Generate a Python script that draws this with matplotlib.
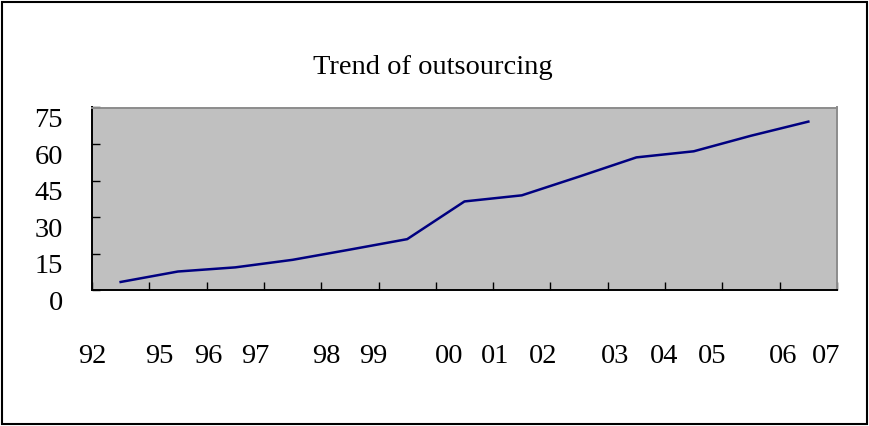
"""Trend of outsourcing (line chart, Excel-style)."""

import matplotlib

matplotlib.use("Agg")
import matplotlib.pyplot as plt
from matplotlib.patches import Rectangle

# values
values = [3.3, 7.6, 9.3, 12.4, 16.6, 20.9, 36.4, 38.9, 46.6, 54.5, 57.0, 63.4, 69.2]
year_labels = ["92", "95", "96", "97", "98", "99", "00", "01", "02", "03", "04", "05", "06", "07"]
# where the year text sits along the x axis (axes fraction)
label_pos = [0.0, 0.091, 0.156, 0.219, 0.314, 0.378, 0.479, 0.541, 0.605, 0.702, 0.768, 0.832, 0.928, 0.986]
yticks = [0, 15, 30, 45, 60, 75]

FONT = "Liberation Serif"
plt.rcParams["font.family"] = FONT
FS = 20.5


def main():
    fig = plt.figure(figsize=(8.69, 4.27), dpi=100)
    ax = fig.add_axes([92 / 869, 1 - 291 / 427, (837 - 92) / 869, (291 - 108.5) / 427])
    ax.set_facecolor("#C0C0C0")

    xs = list(range(len(values)))
    ax.plot(xs, values, color="#000080", lw=1.8)

    ax.set_xlim(-0.5, len(values) - 0.5)
    ax.set_ylim(0, 75)
    ax.set_xticks([i - 0.5 for i in range(len(values) + 1)])
    ax.set_xticklabels([])
    ax.set_yticks(yticks)
    ax.set_yticklabels([str(v) for v in yticks], fontsize=FS, va="top")
    ax.tick_params(axis="x", direction="in", length=6, width=1, color="black")
    ax.tick_params(axis="y", direction="in", length=5.5, width=1, color="black", pad=21)

    for side in ("left", "bottom"):
        ax.spines[side].set_color("black")
        ax.spines[side].set_linewidth(1.4)
    for side in ("top", "right"):
        ax.spines[side].set_color("#8C8C8C")
        ax.spines[side].set_linewidth(1.4)

    for lab, pos in zip(year_labels, label_pos):
        ax.text(pos, -0.36, lab, transform=ax.transAxes, ha="center", va="center", fontsize=FS)

    fig.text(0.4977, 1 - 68 / 427, "Trend of outsourcing", ha="center", va="center", fontsize=FS)

    # outer chart frame
    fig.patches.append(Rectangle((1.5 / 869, 2.5 / 427), 865 / 869, 421.5 / 427, transform=fig.transFigure,
                                 fill=False, edgecolor="black", lw=1.5))

    fig.savefig("out.png", dpi=100)


if __name__ == "__main__":
    main()
